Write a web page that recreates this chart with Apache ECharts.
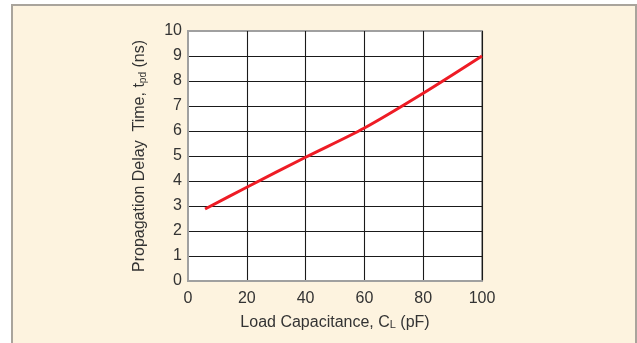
<!DOCTYPE html>
<html>
<head>
<meta charset="utf-8">
<script src="https://cdn.jsdelivr.net/npm/echarts@6/dist/echarts.min.js"></script>
<style>
  html, body { margin: 0; padding: 0; background: #ffffff; }
  #chart { width: 637px; height: 343px; }
</style>
</head>
<body>
<div id="chart"></div>
<script>
// Load capacitance (pF) and propagation delay time (ns)
const loadCap = [5.8, 20, 40, 60, 80, 100];
const delayNs = [2.88, 3.75, 4.95, 6.12, 7.51, 9.0];
const xTicks = [0, 20, 40, 60, 80, 100];
const yTicks = [0, 1, 2, 3, 4, 5, 6, 7, 8, 9, 10];

const textColor = '#333333';
const fontFamily = '"Liberation Sans", Arial, sans-serif';

const chart = echarts.init(document.getElementById('chart'), null, { renderer: 'canvas' });

chart.setOption({
  animation: false,
  backgroundColor: '#ffffff',
  graphic: [{
    type: 'rect',
    z: -10,
    silent: true,
    shape: { x: 12, y: 5, width: 624, height: 345 },
    style: { fill: '#fdf3df', stroke: '#a9a49c', lineWidth: 2 }
  }],
  grid: {
    left: 188, right: 155, top: 31, bottom: 62,
    show: true,
    backgroundColor: '#ffffff',
    borderColor: '#a0a0a0',
    borderWidth: 2
  },
  xAxis: {
    type: 'value',
    min: xTicks[0], max: xTicks[xTicks.length - 1], interval: 20,
    name: '{a|Load Capacitance, C}{s|L}{a| (pF)}',
    nameLocation: 'middle',
    nameGap: 34,
    nameTextStyle: {
      rich: {
        a: { fontSize: 16, color: textColor, fontFamily },
        s: { fontSize: 11, color: textColor, fontFamily, verticalAlign: 'bottom', padding: [0, 0, 1, 0] }
      }
    },
    axisLine: { show: true, lineStyle: { color: '#a0a0a0', width: 2 } },
    axisTick: { show: false },
    axisLabel: { color: textColor, fontSize: 16, fontFamily, margin: 10 },
    splitLine: { show: true, showMinLine: false, lineStyle: { color: '#1a1a1a', width: 1.1 } }
  },
  yAxis: {
    type: 'value',
    min: yTicks[0], max: yTicks[yTicks.length - 1], interval: 1,
    name: '{a|Propagation Delay  Time, t}{s|pd}{a| (ns)}',
    nameLocation: 'middle',
    nameGap: 40,
    nameTextStyle: {
      rich: {
        a: { fontSize: 16, color: textColor, fontFamily },
        s: { fontSize: 10, color: textColor, fontFamily, verticalAlign: 'bottom' }
      }
    },
    axisLine: { show: true, lineStyle: { color: '#a0a0a0', width: 2 } },
    axisTick: { show: false },
    axisLabel: { color: textColor, fontSize: 16, fontFamily, margin: 6 },
    splitLine: { show: true, showMinLine: false, showMaxLine: false, lineStyle: { color: '#1a1a1a', width: 1.1 } }
  },
  series: [{
    type: 'line',
    data: loadCap.map((c, i) => [c, delayNs[i]]),
    smooth: 0.3,
    symbol: 'none',
    lineStyle: { color: '#ee1c25', width: 3 },
    z: 5
  }]
});
</script>
</body>
</html>
